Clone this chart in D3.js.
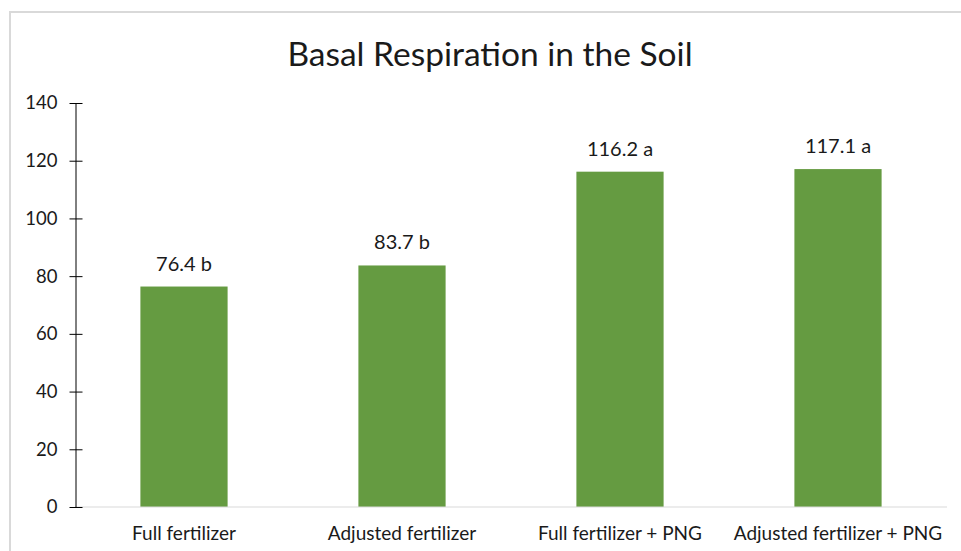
<!DOCTYPE html>
<html><head><meta charset="utf-8">
<script src="https://cdn.jsdelivr.net/npm/d3@7"></script>
<style>body{margin:0;background:#fff}svg{display:block}</style>
</head><body>
<svg id="c" width="961" height="551"></svg>
<script>
const categories = ["Full fertilizer", "Adjusted fertilizer", "Full fertilizer + PNG", "Adjusted fertilizer + PNG"];
const values = [76.4, 83.7, 116.2, 117.1];
const letters = ["b", "b", "a", "a"];
const yTicks = [0, 20, 40, 60, 80, 100, 120, 140];
const title = "Basal Respiration in the Soil";

const svg = d3.select("#c");
const font = "Lato, 'Open Sans', sans-serif";
// frame
svg.append("path").attr("d", "M10,551 V12 H961").attr("fill","none").attr("stroke","#d9d9d9").attr("stroke-width",2);

const x = d3.scaleBand().domain(categories).range([75, 947]).paddingInner(0.6).paddingOuter(0.3);
const y = d3.scaleLinear().domain([0, 140]).range([507, 103]);

svg.append("text").attr("x", 490).attr("y", 66).attr("text-anchor","middle")
  .attr("font-family", font).attr("font-size", 33.5).attr("fill","#1a1a1a").text(title);

// bars
svg.selectAll("rect.bar").data(values).join("rect").attr("class","bar")
  .attr("x", (d,i)=>x(categories[i])).attr("width", x.bandwidth())
  .attr("y", d=>y(d)).attr("height", d=>y(0)-y(d)).attr("fill","#659b41");

svg.selectAll("text.val").data(values).join("text").attr("class","val")
  .attr("x", (d,i)=>x(categories[i])+x.bandwidth()/2).attr("y", d=>y(d)-16)
  .attr("text-anchor","middle").attr("font-family", font).attr("font-size", 20).attr("fill","#1a1a1a")
  .text((d,i)=>d.toFixed(1)+" "+letters[i]);

// x axis
svg.append("line").attr("x1", 75).attr("x2", 947).attr("y1", y(0)).attr("y2", y(0)).attr("stroke","#d9d9d9").attr("stroke-width",1);
svg.selectAll("text.cat").data(categories).join("text").attr("class","cat")
  .attr("x", d=>x(d)+x.bandwidth()/2).attr("y", 540).attr("text-anchor","middle")
  .attr("font-family", font).attr("font-size", 19).attr("fill","#1a1a1a").text(d=>d);

// y axis
const ya = svg.append("g").attr("transform","translate(75.5,0)").call(d3.axisLeft(y).tickValues(yTicks).tickSize(0).tickPadding(18));
ya.select(".domain").attr("stroke","#000");
ya.selectAll("text").attr("font-family", font).attr("font-size", 18.5).attr("fill","#1a1a1a");
ya.selectAll(".tick").append("line").attr("x1",-6).attr("x2",7).attr("stroke","#000");
</script>
</body></html>
